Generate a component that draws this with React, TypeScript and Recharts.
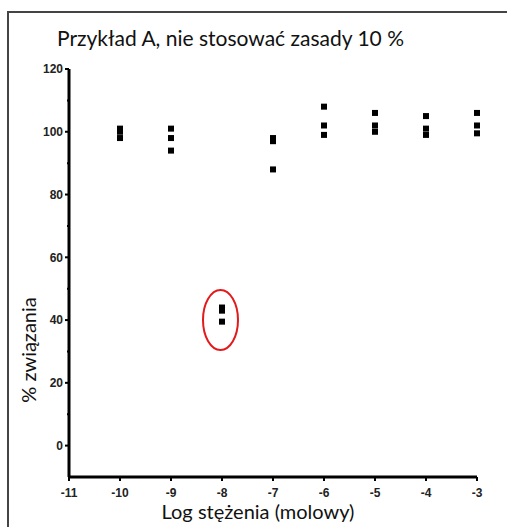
import React from 'react';
import { ScatterChart, Scatter, XAxis, YAxis, ReferenceDot, ReferenceLine } from 'recharts';

const xTicks = [-11, -10, -9, -8, -7, -6, -5, -4, -3];
const yMajorTicks = [0, 20, 40, 60, 80, 100, 120];
const yMinorTicks = [10, 30, 50, 70, 90, 110];
const xValues = [-10, -10, -10, -9, -9, -9, -8, -8, -8, -7, -7, -7, -6, -6, -6, -5, -5, -5, -4, -4, -4, -3, -3, -3];
const bindingValues = [101, 100, 98, 101, 98, 94, 44, 43, 39.5, 98, 97, 88, 108, 102, 99, 106, 102, 100, 105, 101, 99, 106, 102, 99.5];
const circledPoint = { x: -8, y: 40 };
const xMin = -11;
const xMax = -3;
const yMin = -10;
const yMax = 120;

const data = xValues.map((x, i) => ({ x, y: bindingValues[i] }));
const yTicks = [...yMajorTicks, ...yMinorTicks].sort((a, b) => a - b);

const tickFont = "'Liberation Sans Narrow', 'Arial Narrow', 'Liberation Sans', Arial, sans-serif";
const textFont = "Lato, 'Open Sans', sans-serif";

const YTick = (props: any) => {
  const { x, y, payload } = props;
  const axisX = x + 6;
  const major = yMajorTicks.includes(payload.value);
  return (
    <g>
      <line x1={axisX - (major ? 4 : 2)} x2={axisX} y1={y} y2={y} stroke="#000" strokeWidth={2} />
      {major && (
        <text x={axisX - 6} y={y} dy="0.35em" textAnchor="end" fontFamily={tickFont} fontWeight="bold" fontSize={12} fill="#222">
          {payload.value}
        </text>
      )}
    </g>
  );
};

const XTick = (props: any) => {
  const { x, y, payload } = props;
  const axisY = y - 6;
  return (
    <g>
      <line x1={x} x2={x} y1={axisY} y2={axisY + 4} stroke="#000" strokeWidth={2} />
      <text x={x} y={axisY + 20} textAnchor="middle" fontFamily={tickFont} fontWeight="bold" fontSize={12} fill="#222">
        {payload.value}
      </text>
    </g>
  );
};

const SquareDot = (props: any) => {
  const { cx, cy } = props;
  return <rect x={cx - 3} y={cy - 3} width={6} height={6} fill="#000" />;
};

const Ellipse = (props: any) => {
  const { cx, cy } = props;
  return <ellipse cx={cx - 1.5} cy={cy} rx={17.5} ry={30} fill="none" stroke="#e3191c" strokeWidth={2} />;
};

export default function App() {
  return (
    <div style={{ position: 'absolute', left: 0, top: 0, width: 507, height: 527, background: '#fff', overflow: 'hidden' }}>
      <div style={{ position: 'absolute', left: 7, top: 11, width: 600, height: 600, borderTop: '2px solid #444', borderLeft: '2px solid #444' }} />
      <ScatterChart width={507} height={527} margin={{ top: 69, right: 30, left: 9, bottom: 20 }} style={{ position: 'absolute', left: 0, top: 0 }}>
        <XAxis
          type="number"
          dataKey="x"
          domain={[xMin, xMax]}
          ticks={xTicks}
          interval={0}
          height={30}
          tickLine={false}
          tickSize={0}
          tickMargin={6}
          tick={<XTick />}
          axisLine={false}
        />
        <YAxis
          type="number"
          dataKey="y"
          domain={[yMin, yMax]}
          ticks={yTicks}
          interval={0}
          width={60}
          tickLine={false}
          tickSize={0}
          tickMargin={6}
          tick={<YTick />}
          axisLine={false}
        />
        <ReferenceLine x={xMin} stroke="#000" strokeWidth={3} ifOverflow="extendDomain" />
        <ReferenceLine y={yMin} stroke="#000" strokeWidth={3} ifOverflow="extendDomain" />
        <Scatter data={data} fill="#000" shape={<SquareDot />} isAnimationActive={false} />
        <ReferenceDot x={circledPoint.x} y={circledPoint.y} shape={<Ellipse />} />
      </ScatterChart>
      <svg width={507} height={527} style={{ position: 'absolute', left: 0, top: 0, pointerEvents: 'none' }}>
        <text x={57} y={46} fontFamily={textFont} fontSize={21} fill="#111">Przykład A, nie stosować zasady 10 %</text>
        <text x={258} y={519} textAnchor="middle" fontFamily={textFont} fontSize={20} fill="#111">Log stężenia (molowy)</text>
        <text x={36} y={350} textAnchor="middle" fontFamily={textFont} fontSize={20} fill="#111" transform="rotate(-90 36 350)">% związania</text>
      </svg>
    </div>
  );
}
